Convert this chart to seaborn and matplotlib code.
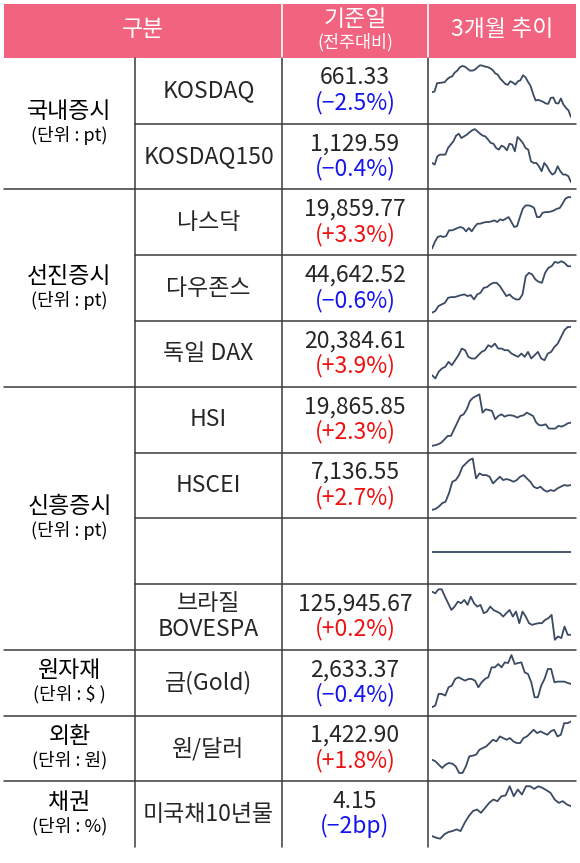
import numpy as np
import seaborn as sns
import matplotlib.pyplot as plt
from matplotlib.patches import Rectangle

sns.set_theme(style="white")
plt.rcParams['font.family'] = ['Noto Sans CJK KR', 'DejaVu Sans']

# 표 데이터
groups = ['국내증시', '선진증시', '신흥증시', '원자재', '외환', '채권']
group_units = ['(단위 : pt)', '(단위 : pt)', '(단위 : pt)', '(단위 : $ )', '(단위 : 원)', '(단위 : %)']
group_sizes = [2, 3, 4, 1, 1, 1]

names = ['KOSDAQ', 'KOSDAQ150', '나스닥', '다우존스', '독일 DAX', 'HSI', 'HSCEI', '',
         '브라질\nBOVESPA', '금(Gold)', '원/달러', '미국채10년물']
levels = ['661.33', '1,129.59', '19,859.77', '44,642.52', '20,384.61', '19,865.85',
          '7,136.55', '', '125,945.67', '2,633.37', '1,422.90', '4.15']
changes = ['(−2.5%)', '(−0.4%)', '(+3.3%)', '(−0.6%)', '(+3.9%)', '(+2.3%)',
           '(+2.7%)', '', '(+0.2%)', '(−0.4%)', '(+1.8%)', '(−2bp)']

# 3개월 추이 (그림에서 읽은 상대 수준)
kosdaq = [95, 97, 122, 123, 124, 125, 134, 140, 143, 154, 160, 170, 174, 172, 166, 160, 160, 163,
          170, 176, 175, 172, 171, 167, 162, 152, 148, 136, 128, 120, 117, 128, 124, 118, 128, 131,
          146, 140, 126, 114, 90, 70, 72, 69, 66, 61, 60, 78, 79, 62, 61, 76, 58, 48, 40, 20]
kosdaq150 = [80, 75, 100, 105, 105, 105, 125, 135, 145, 162, 168, 155, 160, 165, 172, 178, 182,
             175, 168, 162, 160, 150, 140, 138, 125, 120, 132, 128, 118, 138, 135, 115, 158, 150,
             140, 125, 120, 85, 80, 80, 70, 55, 80, 70, 55, 45, 50, 70, 55, 45, 45, 40, 22]
nasdaq = [20, 40, 55, 58, 55, 58, 75, 75, 78, 82, 85, 82, 72, 82, 72, 85, 95, 95, 98, 100, 100,
          102, 105, 100, 108, 105, 110, 115, 100, 85, 88, 115, 140, 150, 150, 148, 142, 115, 115,
          128, 130, 130, 132, 135, 140, 142, 155, 170, 175, 175]
dow = [25, 30, 45, 50, 55, 70, 72, 72, 75, 78, 80, 75, 78, 65, 80, 85, 100, 102, 110, 115, 115,
       105, 90, 75, 80, 70, 65, 65, 80, 135, 145, 140, 125, 118, 115, 145, 160, 165, 178, 175,
       180, 175, 165, 165]
dax = [35, 25, 45, 55, 60, 75, 65, 80, 95, 115, 110, 90, 85, 85, 95, 105, 110, 125, 120, 130,
       115, 115, 110, 110, 100, 95, 90, 100, 90, 105, 85, 95, 105, 85, 80, 100, 105, 120, 130,
       150, 170, 180, 180]
hsi = [20, 22, 25, 30, 40, 50, 50, 70, 90, 110, 115, 130, 155, 165, 170, 175, 120, 130, 128,
       125, 100, 110, 115, 108, 112, 112, 110, 105, 110, 112, 120, 115, 110, 90, 82, 82, 85, 72,
       72, 72, 80, 78, 82, 88, 90]
hscei = [25, 28, 35, 45, 50, 75, 110, 115, 130, 155, 165, 175, 180, 120, 135, 130, 130, 125,
         105, 115, 125, 115, 118, 115, 110, 115, 125, 130, 120, 110, 95, 90, 95, 85, 80, 85, 82,
         90, 95, 100, 98, 100]
blank = [97, 97]
bovespa = [175, 170, 182, 182, 160, 140, 120, 130, 145, 140, 150, 135, 160, 140, 130, 135, 110,
           115, 130, 120, 115, 110, 100, 110, 120, 100, 115, 80, 115, 100, 80, 75, 78, 80, 80, 90,
           95, 105, 30, 40, 35, 70, 45, 45]
gold = [25, 30, 65, 65, 60, 85, 90, 110, 115, 110, 105, 110, 110, 105, 85, 100, 110, 115, 145,
        145, 155, 145, 160, 158, 182, 155, 158, 160, 130, 125, 100, 55, 55, 90, 110, 140, 140,
        100, 102, 102, 102, 98, 95]
krw = [65, 60, 50, 40, 50, 55, 53, 45, 25, 25, 45, 75, 77, 80, 95, 100, 105, 115, 125, 120, 135,
       130, 125, 130, 120, 115, 115, 130, 135, 145, 155, 145, 150, 145, 140, 150, 155, 135, 140,
       175, 175, 180]
ust10 = [33, 28, 25, 38, 45, 48, 53, 48, 73, 93, 108, 113, 103, 118, 133, 143, 138, 153, 155,
         183, 153, 173, 158, 183, 183, 175, 183, 178, 171, 163, 143, 133, 138, 128, 123]

sparks = [kosdaq, kosdaq150, nasdaq, dow, dax, hsi, hscei, blank, bovespa, gold, krw, ust10]

W, H = 580, 863
fig = plt.figure(figsize=(W / 100, H / 100), dpi=100)
ax = fig.add_axes([0, 0, 1, 1])
ax.set_xlim(0, W)
ax.set_ylim(H, 0)
ax.axis('off')

pink = '#f1637f'
line_c = '#3a3a3a'
x0, x1, x2, x3, x4 = 4, 135, 282, 428, 576
top, head_b, bottom = 4, 58, 847
rh = (bottom - head_b) / len(names)

# 헤더
ax.add_patch(Rectangle((x0, top), x4 - x0, head_b - top, color=pink, lw=0))
for xv in (x2, x3):
    ax.plot([xv, xv], [top, head_b], color='white', lw=1.2)
hfs = 16.5
ax.text((x0 + x2) / 2, 30, '구분', color='white', fontsize=hfs, ha='center', va='center')
ax.text((x2 + x3) / 2, 19, '기준일', color='white', fontsize=hfs, ha='center', va='center')
ax.text((x2 + x3) / 2, 42, '(전주대비)', color='white', fontsize=12.5, ha='center', va='center')
ax.text((x3 + x4) / 2, 29, '3개월 추이', color='white', fontsize=hfs, ha='center', va='center')

# 세로선
for xv in (x1, x2, x3):
    ax.plot([xv, xv], [head_b, bottom], color=line_c, lw=1.1)

# 그룹
fs = 16.5
sfs = 13
row = 0
for g, u, n in zip(groups, group_units, group_sizes):
    y_top = head_b + row * rh
    y_bot = head_b + (row + n) * rh
    cy = (y_top + y_bot) / 2
    ax.text((x0 + x1) / 2, cy - 12, g, fontsize=fs, ha='center', va='center', color='black')
    ax.text((x0 + x1) / 2, cy + 12, u, fontsize=sfs, ha='center', va='center', color='black')
    # 그룹 내부 구분선
    for k in range(1, n):
        yy = head_b + (row + k) * rh
        ax.plot([x1, x4], [yy, yy], color=line_c, lw=1.1)
    if row + n < len(names):
        ax.plot([x0, x4], [y_bot, y_bot], color=line_c, lw=1.1)
    row += n

# 행 텍스트 + 추이
for i, (nm, lv, ch, sp) in enumerate(zip(names, levels, changes, sparks)):
    cy = head_b + (i + 0.5) * rh
    if '\n' in nm:
        a, b = nm.split('\n')
        ax.text((x1 + x2) / 2, cy - 13, a, fontsize=fs, ha='center', va='center')
        ax.text((x1 + x2) / 2, cy + 13, b, fontsize=fs, ha='center', va='center')
    elif nm:
        ax.text((x1 + x2) / 2, cy, nm, fontsize=fs, ha='center', va='center')
    if lv:
        col = '#ee1111' if ch.startswith('(+') else '#1515ee'
        ax.text((x2 + x3) / 2, cy - 13, lv, fontsize=fs, ha='center', va='center')
        ax.text((x2 + x3) / 2, cy + 12, ch, fontsize=fs, ha='center', va='center', color=col)

    y_top = head_b + i * rh
    iax = fig.add_axes([432 / W, 1 - (y_top + rh) / H, (571 - 432) / W, rh / H])
    sns.lineplot(x=np.arange(len(sp)), y=sp, ax=iax, color='#3b4a63', linewidth=1.3)
    iax.set_xlim(0, len(sp) - 1)
    iax.set_ylim(0, 198)
    iax.axis('off')
    iax.patch.set_alpha(0)

fig.savefig('out.png', dpi=100)
